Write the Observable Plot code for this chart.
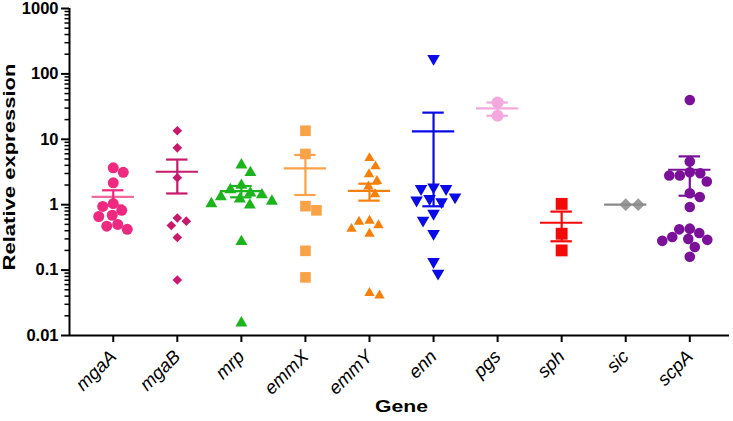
<!DOCTYPE html>
<html><head><meta charset="utf-8">
<script src="https://cdn.jsdelivr.net/npm/d3@7"></script>
<script src="https://cdn.jsdelivr.net/npm/@observablehq/plot@0.6"></script>
<style>
body{margin:0;background:#fff}
#chart svg{display:block}
</style>
</head><body><div id="chart"></div>
<script>
// ---- data ----
const genes = ["mgaA","mgaB","mrp","emmX","emmY","enn","pgs","sph","sic","scpA"];
const mgaA = [3.66,3.13,2.16,1.04,0.94,0.82,0.69,0.66,0.50,0.47,0.42];
const mgaB = [13.5,7.4,2.58,0.625,0.56,0.48,0.315,0.0705];
const mrp  = [4.3,3.3,2.1,1.8,1.6,1.5,1.4,1.3,1.2,1.1,1.05,0.29,0.0165];
const emmX = [13.5,5.97,0.95,0.82,0.197,0.0774];
const emmY = [5.43,4.06,3.07,2.43,2.0,1.52,0.60,0.58,0.51,0.45,0.38,0.047,0.043];
const enn  = [161,1.75,1.65,1.65,1.23,1.16,1.1,1.04,0.69,0.54,0.34,0.126,0.084];
const pgs  = [36.5,22.9];
const sph  = [1.03,0.36,0.2];
const sic  = [1.0,1.0];
const scpA = [40,4.56,3.13,3.03,2.79,2.79,2.26,1.5,1.31,0.92,0.43,0.42,0.37,0.32,0.30,0.29,0.28,0.226,0.16];
const yTicks = [0.01,0.1,1,10,100,1000];
const yTickLabels = ["0.01","0.1","1","10","100","1000"];
const xTitle = "Gene";
const yTitle = "Relative expression";

// ---- styles ----
const colors = ["#ee2a80","#c81a6c","#1cb41c","#f9a247","#f7800c","#0a0ae8","#f4a8de","#f50a0a","#9a9a9a","#7a1198"];
const meanColors = ["#f06a9e","#c81a6c","#1cb41c","#f9a247","#f7800c","#0a0ae8","#f4a8de","#f50a0a","#8a8a8a","#7a1198"];
const shapes = ["circle","diamond","triUp","square","triUp","triDown","circle","square","diamond","circle"];
const sizes = [5.5,4.8,6,5.9,5.2,6.3,6,6.6,6.4,5.3];

const W = 733, H = 421, ml = 69, mr = 4, mt = 8, mb = 86;
const xDomain = [-0.683, 9.62];
const yDomain = [yTicks[0], yTicks[yTicks.length-1]];

const symbolDefs = {
  circle: "circle",
  square: {draw(c, size){ const r = Math.sqrt(size/Math.PI)*0.9; c.rect(-r,-r,2*r,2*r); }},
  diamond: {draw(c, size){ const r = Math.sqrt(size/Math.PI); c.moveTo(0,-r); c.lineTo(r,0); c.lineTo(0,r); c.lineTo(-r,0); c.closePath(); }},
  triUp: {draw(c, size){ const r = Math.sqrt(size/Math.PI); const h = r*0.86; c.moveTo(0,-h); c.lineTo(r,h); c.lineTo(-r,h); c.closePath(); }},
  triDown: {draw(c, size){ const r = Math.sqrt(size/Math.PI); const h = r*0.86; c.moveTo(0,h); c.lineTo(r,-h); c.lineTo(-r,-h); c.closePath(); }}
};

const series = [mgaA,mgaB,mrp,emmX,emmY,enn,pgs,sph,sic,scpA];

const xs = Plot.scale({x: {type: "linear", domain: xDomain, range: [ml, W - mr]}});
const ys = Plot.scale({y: {type: "log", domain: yDomain, range: [H - mb, mt]}});
const pxPerUnit = xs.apply(1) - xs.apply(0);

// simple centered beeswarm in pixel space
const pointsByGene = series.map((vals, gi) => {
  const r = sizes[gi];
  const d = 2 * r * 0.97;
  const placed = [];
  const order = vals.map(v => ({v, py: ys.apply(v)})).sort((a,b) => a.py - b.py);
  const out = [];
  let p;
  const free = c => placed.every(q => Math.hypot(q.ox - c, q.py - p.py) >= d);
  for (p of order) {
    let pos = null, neg = null;
    for (let k = 0; k <= 120; k++) { const c = k*0.5; if (free(c)) { pos = c; break; } }
    for (let k = 0; k <= 120; k++) { const c = -k*0.5; if (free(c)) { neg = c; break; } }
    let off;
    if (pos === 0) off = 0;
    else if (pos < -neg) off = pos;
    else if (-neg < pos) off = neg;
    else { const s = d3.sum(placed, q => q.ox); off = s > 0 ? neg : pos; }
    placed.push({ox: off, py: p.py});
    out.push({gene: gi, value: p.v, x: gi + off / pxPerUnit});
  }
  return out;
});

const stats = series.map((vals, gi) => {
  const m = d3.mean(vals);
  const s = d3.deviation(vals) / Math.sqrt(vals.length);
  return {gene: gi, mean: m, sem: s, lo: Math.max(m - s, yDomain[0]), hi: m + s};
});
const withErr = stats.filter(d => d.sem > 1e-9);

const minorTicks = d3.scaleLog().domain(yDomain).ticks().filter(t => !yTicks.some(M => Math.abs(M - t) / M < 1e-9));

const marks = [];
// axis lines
marks.push(Plot.ruleY([yDomain[0]], {stroke: "black", strokeWidth: 2}));
marks.push(Plot.ruleX([xDomain[0]], {stroke: "black", strokeWidth: 2}));
// points
pointsByGene.forEach((pts, gi) => {
  marks.push(Plot.dot(pts, {x: "x", y: "value", fill: colors[gi], symbol: symbolDefs[shapes[gi]], r: sizes[gi]}));
});
// mean lines and SEM
marks.push(Plot.ruleY(stats, {y: "mean", x1: d => d.gene - 0.33, x2: d => d.gene + 0.33, stroke: d => meanColors[d.gene], strokeWidth: 2.2}));
marks.push(Plot.ruleX(withErr, {x: "gene", y1: "lo", y2: "hi", stroke: d => colors[d.gene], strokeWidth: 2.2}));
marks.push(Plot.ruleY(withErr, {y: "hi", x1: d => d.gene - 0.167, x2: d => d.gene + 0.167, stroke: d => colors[d.gene], strokeWidth: 2.2}));
marks.push(Plot.ruleY(withErr.filter(d => d.mean - d.sem > yDomain[0]), {y: "lo", x1: d => d.gene - 0.167, x2: d => d.gene + 0.167, stroke: d => colors[d.gene], strokeWidth: 2.2}));
// axes
marks.push(Plot.axisX(genes.map((g, i) => i), {tickFormat: i => genes[i], tickRotate: -45, tickSize: 7, tickPadding: 11, fontSize: 18.5, fontStyle: "italic", strokeWidth: 2, label: null}));
marks.push(Plot.axisY(yTicks, {tickFormat: d => yTickLabels[yTicks.indexOf(d)], tickSize: 8, tickPadding: 3, fontSize: 16.5, fontWeight: "bold", strokeWidth: 2, label: null}));
marks.push(Plot.axisY(minorTicks, {tickFormat: () => "", tickSize: 4.5, strokeWidth: 1.5, label: null}));
// titles
marks.push(Plot.text([xTitle], {text: d => d, frameAnchor: "bottom", dx: 2, dy: 76, fontSize: 16, fontWeight: "bold"}));
marks.push(Plot.text([yTitle], {text: d => d, frameAnchor: "left", textAnchor: "middle", dx: -60, dy: -5, rotate: -90, fontSize: 16, fontWeight: "bold"}));

const chart = Plot.plot({
  width: W, height: H,
  marginLeft: ml, marginRight: mr, marginTop: mt, marginBottom: mb,
  style: {fontFamily: "'Liberation Sans', Arial, sans-serif", color: "black", background: "white", overflow: "visible"},
  x: {type: "linear", domain: xDomain},
  y: {type: "log", domain: yDomain},
  color: {type: "identity"},
  marks
});
// widen the titles along their baseline, as in the reference
d3.select(chart).selectAll("text").each(function() {
  const t = this.textContent;
  if (t === xTitle) { this.setAttribute("textLength", 53); this.setAttribute("lengthAdjust", "spacingAndGlyphs"); }
  if (t === yTitle) { this.setAttribute("textLength", 207); this.setAttribute("lengthAdjust", "spacingAndGlyphs"); }
});
document.getElementById("chart").append(chart);
</script>
</body></html>
